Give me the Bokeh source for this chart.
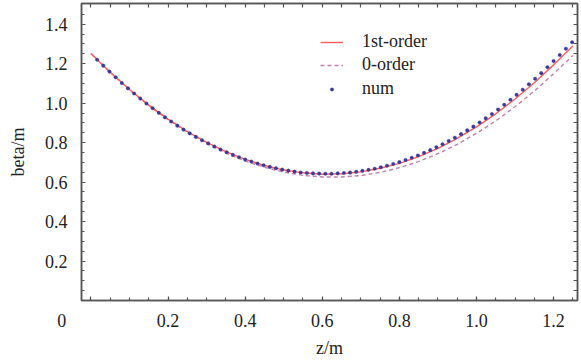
from bokeh.plotting import figure
from bokeh.models import (Range1d, FixedTicker, LinearAxis, Legend, LegendItem,
                          PrintfTickFormatter, CustomJSTickFormatter)
from bokeh.embed import file_html
from bokeh.resources import INLINE

z_line = [0.00, 0.05, 0.10, 0.15, 0.20, 0.25, 0.30, 0.35, 0.40, 0.45, 0.50, 0.55, 0.60,
          0.65, 0.70, 0.75, 0.80, 0.85, 0.90, 0.95, 1.00, 1.05, 1.10, 1.15, 1.20, 1.25]
first_order = [1.252, 1.157, 1.069, 0.990, 0.919, 0.856, 0.801, 0.754, 0.715, 0.684, 0.661, 0.647, 0.640,
               0.642, 0.652, 0.670, 0.695, 0.729, 0.771, 0.822, 0.880, 0.946, 1.021, 1.103, 1.194, 1.290]
zero_order = [1.252, 1.156, 1.068, 0.988, 0.916, 0.852, 0.796, 0.747, 0.707, 0.675, 0.651, 0.634, 0.626,
              0.626, 0.633, 0.649, 0.673, 0.704, 0.744, 0.791, 0.847, 0.910, 0.982, 1.061, 1.149, 1.242]

z_num = [0.016, 0.032, 0.048, 0.064, 0.080, 0.096, 0.112, 0.128, 0.144, 0.160,
         0.176, 0.192, 0.208, 0.224, 0.240, 0.256, 0.272, 0.288, 0.304, 0.320,
         0.336, 0.352, 0.368, 0.384, 0.400, 0.416, 0.432, 0.448, 0.464, 0.480,
         0.496, 0.512, 0.528, 0.544, 0.560, 0.576, 0.592, 0.608, 0.624, 0.640,
         0.656, 0.672, 0.688, 0.704, 0.720, 0.736, 0.752, 0.768, 0.784, 0.800,
         0.816, 0.832, 0.848, 0.864, 0.880, 0.896, 0.912, 0.928, 0.944, 0.960,
         0.976, 0.992, 1.008, 1.024, 1.040, 1.056, 1.072, 1.088, 1.104, 1.120,
         1.136, 1.152, 1.168, 1.184, 1.200, 1.216, 1.232, 1.248]
beta_num = [1.220, 1.190, 1.160, 1.131, 1.102, 1.075, 1.049, 1.023, 0.998, 0.974,
            0.951, 0.928, 0.907, 0.886, 0.866, 0.847, 0.829, 0.812, 0.796, 0.780,
            0.765, 0.751, 0.738, 0.726, 0.714, 0.704, 0.694, 0.685, 0.677, 0.670,
            0.663, 0.658, 0.653, 0.649, 0.646, 0.644, 0.643, 0.642, 0.642, 0.644,
            0.646, 0.648, 0.652, 0.657, 0.662, 0.668, 0.675, 0.683, 0.692, 0.701,
            0.712, 0.723, 0.735, 0.748, 0.762, 0.776, 0.792, 0.808, 0.825, 0.843,
            0.862, 0.881, 0.902, 0.923, 0.945, 0.968, 0.992, 1.017, 1.042, 1.068,
            1.096, 1.124, 1.152, 1.182, 1.213, 1.244, 1.276, 1.309]

x_major = [0.0, 0.2, 0.4, 0.6, 0.8, 1.0, 1.2]
x_minor = [0.0, 0.05, 0.10, 0.15, 0.20, 0.25, 0.30, 0.35, 0.40, 0.45, 0.50, 0.55, 0.60,
           0.65, 0.70, 0.75, 0.80, 0.85, 0.90, 0.95, 1.00, 1.05, 1.10, 1.15, 1.20, 1.25]
y_major = [0.2, 0.4, 0.6, 0.8, 1.0, 1.2, 1.4]
y_minor = [0.05, 0.10, 0.15, 0.20, 0.25, 0.30, 0.35, 0.40, 0.45, 0.50, 0.55, 0.60, 0.65,
           0.70, 0.75, 0.80, 0.85, 0.90, 0.95, 1.00, 1.05, 1.10, 1.15, 1.20, 1.25, 1.30,
           1.35, 1.40, 1.45]

FONT = "Liberation Serif, Times New Roman, serif"
FS = "18px"
AX = "#555555"
TXT = "#222222"

p = figure(width=581, height=362, output_backend="svg", toolbar_location=None,
           x_range=Range1d(-0.0245, 1.262), y_range=Range1d(0.0, 1.505),
           min_border_left=81, min_border_right=4, min_border_top=3, min_border_bottom=62)
p.grid.visible = False
p.background_fill_color = "white"
p.border_fill_color = "white"
p.outline_line_color = AX
p.outline_line_width = 1.5


def style_axis(ax, ticks, minor):
    ax.ticker = FixedTicker(ticks=ticks, minor_ticks=minor)
    ax.axis_line_color = AX
    ax.axis_line_width = 1.5
    ax.major_tick_line_color = AX
    ax.minor_tick_line_color = AX
    ax.major_tick_line_width = 1.2
    ax.minor_tick_line_width = 1.2
    ax.major_tick_in = 4
    ax.major_tick_out = 0
    ax.minor_tick_in = 3
    ax.minor_tick_out = 0
    ax.major_label_text_font = FONT
    ax.major_label_text_font_size = FS
    ax.major_label_text_color = TXT


xa = p.xaxis[0]
style_axis(xa, x_major, x_minor)
xa.formatter = CustomJSTickFormatter(
    code="if (Math.abs(tick) < 1e-9) { return '0' + '\\u00a0'.repeat(13); } return tick.toFixed(1);")
xa.major_label_standoff = 10
xa.axis_label = "z/m"
xa.axis_label_text_font = FONT
xa.axis_label_text_font_size = FS
xa.axis_label_text_font_style = "normal"
xa.axis_label_text_color = TXT
xa.axis_label_standoff = 4

ya = p.yaxis[0]
style_axis(ya, y_major, y_minor)
ya.formatter = PrintfTickFormatter(format="%.1f")
ya.major_label_standoff = 14
ya.axis_label = "beta/m"
ya.axis_label_text_font = FONT
ya.axis_label_text_font_size = FS
ya.axis_label_text_font_style = "normal"
ya.axis_label_text_color = TXT
ya.axis_label_standoff = 14

top_ax = LinearAxis()
style_axis(top_ax, [], x_minor)
top_ax.minor_tick_in = 4
p.add_layout(top_ax, "above")
right_ax = LinearAxis()
style_axis(right_ax, [], y_minor)
right_ax.minor_tick_in = 4
p.add_layout(right_ax, "right")

r0 = p.line(z_line, zero_order, line_color="#c27fb0", line_width=1.4, line_dash="4 3")
r1 = p.line(z_line, first_order, line_color="#ff5c5c", line_width=1.4)
r2 = p.scatter(z_num, beta_num, size=3.6, fill_color="#3b3b98", line_color="#3b3b98", line_width=0.3)

common = dict(orientation="vertical", background_fill_alpha=0, border_line_alpha=0,
              padding=0, margin=0, spacing=2,
              label_text_font=FONT, label_text_font_size=FS, label_text_color=TXT,
              label_text_baseline="middle")

legend_lines = Legend(items=[LegendItem(label="1st-order", renderers=[r1]),
                             LegendItem(label="0-order", renderers=[r0])],
                      location=(239, 225), glyph_width=23, glyph_height=20,
                      label_height=20, label_standoff=19, **common)
legend_dots = Legend(items=[LegendItem(label="num", renderers=[r2])],
                     location=(246, 201), glyph_width=9, glyph_height=20,
                     label_height=20, label_standoff=26, **common)
p.add_layout(legend_lines)
p.add_layout(legend_dots)

open("out.html", "w").write(file_html(p, INLINE))
